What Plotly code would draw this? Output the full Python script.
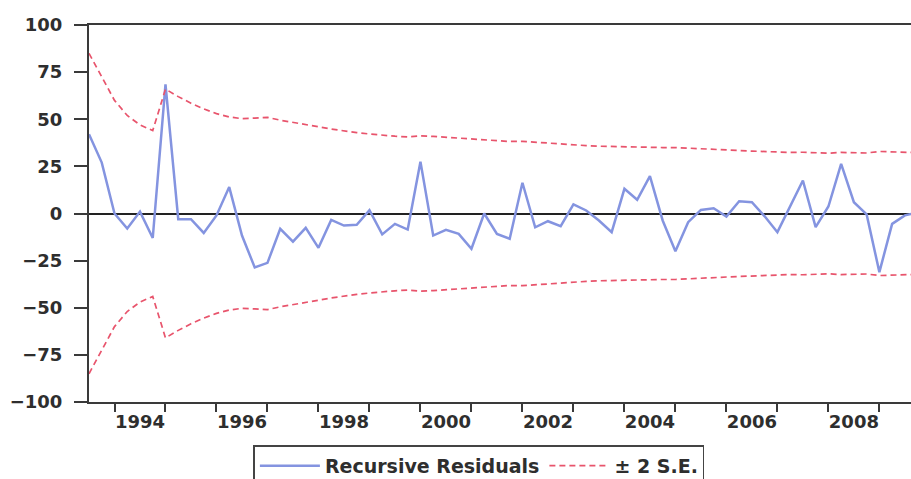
import plotly.graph_objects as go

# ---- data (quarterly, 1993Q3 onward) ----
start_year, start_q = 1993, 3
residuals = [42, 27, 0, -8, 1, -13, 68.5, -3, -3, -10.3,
             -1, 14, -11.7, -28.6, -26.2, -8.1, -14.9, -7.6, -18.2, -3.4,
             -6.4, -6, 1.8, -11.1, -5.5, -8.5, 27.5, -11.7, -8.7, -10.8,
             -18.7, 0, -10.8, -13.4, 16.3, -7.3, -4.1, -6.7, 4.8, 1.6,
             -3.7, -9.9, 13.1, 7.3, 19.8, -3.7, -20, -4.6, 1.9, 2.8,
             -1.6, 6.5, 6, -1.5, -9.9, 3.5, 17.5, -7.2, 3.7, 26.3,
             6, -0.5, -31.1, -5.5, -1, 0.5]
two_se = [85, 72.5, 60, 52, 47, 44, 66, 62, 58.5, 55.5,
          53, 51.2, 50.3, 50.6, 51, 49.5, 48.2, 47, 46, 44.8,
          43.8, 42.9, 42.2, 41.5, 41, 40.6, 41.2, 40.9, 40.4, 40.0,
          39.5, 39.0, 38.6, 38.2, 38.3, 37.8, 37.3, 36.8, 36.3, 36.0,
          35.7, 35.5, 35.4, 35.2, 35.3, 35.0, 35.0, 34.6, 34.3, 34.0,
          33.7, 33.4, 33.1, 32.8, 32.6, 32.4, 32.5, 32.2, 32.0, 32.4,
          32.3, 32.1, 32.9, 32.7, 32.5, 32.3]
year_ticks = list(range(1994, 2010))
label_years = ["1994", "1996", "1998", "2000", "2002", "2004", "2006", "2008"]
y_ticks = [-100, -75, -50, -25, 0, 25, 50, 75, 100]

# quarter positions on a numeric time axis
x = []
for i in range(len(residuals)):
    q = start_q - 1 + i
    x.append(start_year + q // 4 + (q % 4) / 4)
lower = [-v for v in two_se]

FONT = "DejaVu Sans"
TXT = "#2e2e2e"
AX = "#3a3a3a"
BLUE = "#8494e0"
RED = "#e8546c"
tf = dict(family=FONT, size=18, color=TXT, weight="bold")
lf = dict(family=FONT, size=19, color=TXT, weight="bold")

fig = go.Figure()
fig.add_trace(go.Scatter(x=x, y=residuals, mode="lines", name="Recursive Residuals",
                         line=dict(color=BLUE, width=2.5)))
fig.add_trace(go.Scatter(x=x, y=two_se, mode="lines", name="± 2 S.E.",
                         line=dict(color=RED, width=1.7, dash="6px,4px")))
fig.add_trace(go.Scatter(x=x, y=lower, mode="lines", showlegend=False,
                         line=dict(color=RED, width=1.7, dash="6px,4px")))

fig.update_layout(
    width=911, height=479,
    margin=dict(l=89, r=0, t=25, b=77, autoexpand=False),
    paper_bgcolor="white", plot_bgcolor="white",
    font=tf,
    legend=dict(orientation="h", x=0.2, xanchor="left", y=-0.115, yanchor="top",
                bordercolor="#444444", borderwidth=1.5,
                font=lf, itemwidth=60, tracegroupgap=0),
    xaxis=dict(range=[1993.5, 2009.62], showgrid=False, zeroline=False,
               showline=True, linecolor=AX, linewidth=2, mirror=True,
               tickmode="array", tickvals=[int(s) + 0.5 for s in label_years],
               ticktext=label_years, ticks="", ticklabelstandoff=2,
               minor=dict(tickmode="array", tickvals=year_ticks, ticks="outside",
                          ticklen=8, tickwidth=2, tickcolor=AX, showgrid=False),
               tickfont=tf),
    yaxis=dict(range=[-100, 100], showgrid=False,
               zeroline=True, zerolinecolor="#222222", zerolinewidth=2,
               showline=True, linecolor=AX, linewidth=2,
               tickmode="array", tickvals=y_ticks,
               ticks="outside", ticklen=13, tickwidth=2, tickcolor=AX,
               ticklabelstandoff=8,
               tickfont=tf),
)

fig.write_html("out.html")
